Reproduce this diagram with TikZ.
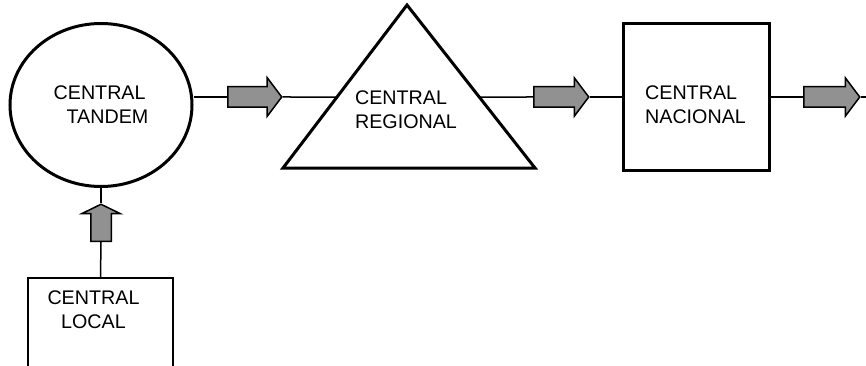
\documentclass[tikz,border=0pt]{standalone}
\usepackage{fontspec}
\setmainfont{Liberation Sans}
\usetikzlibrary{shapes.geometric}
\usetikzlibrary{shapes.arrows}
\definecolor{arrowgray}{gray}{0.57}
\tikzset{central/.style = {draw, line width=3pt, inner sep=0pt}}
\tikzset{ctext/.style = {font=\fontsize{19.7}{24}\selectfont, inner sep=0pt}}
\tikzset{link/.style = {line width=1.5pt}}
\tikzset{blockarrow/.style = {single arrow, draw, fill=arrowgray, line width=1.5pt,
                              inner xsep=0pt, inner ysep=9.5pt, anchor=tail,
                              single arrow head extend=9pt, single arrow tip angle=106}}

\begin{document}
\begin{tikzpicture}[x=1pt, y=-1pt]
			\useasboundingbox (0,0) rectangle (866,366);
			\node [central, ellipse, ctext, align=left, minimum width=182pt, minimum height=163pt] (tandem) at (101,105) {CENTRAL\\\hspace*{13pt}TANDEM};
			\draw [central] (407,5) coordinate (apex) -- (535,168) coordinate (right) -- (283,168) coordinate (left) -- cycle;
			\node [ctext, align=left] (regional) at (406,110) {CENTRAL\\REGIONAL};
			\node [central, rectangle, minimum width=146pt, minimum height=146pt] (nacional) at (696,97) {};
			\node [ctext, align=left] (nacionaltext) at (695.5,105) {CENTRAL\\NACIONAL};
			\node [draw, line width=2pt, minimum width=145pt, minimum height=140pt, anchor=north] (local) at (100.5,277) {};
			\node [ctext, align=center] (localtext) at (93.5,309.5) {CENTRAL\\LOCAL};
			\node [blockarrow, minimum height=37pt, single arrow tip angle=128, rotate=90] (a0) at (101,242) {};
			\node [blockarrow, minimum height=54pt] (a1) at (227,97) {};
			\node [blockarrow, minimum height=55pt] (a2) at (533,97) {};
			\node [blockarrow, minimum height=56pt] (a3) at (803,97) {};
			\coordinate (out) at (866,97);
			\draw [link] (tandem.south) to (a0.tip);
			\draw [link] (a0.tail) to (local.north);
			\draw [link] (a1.tail -| tandem.east) to (a1.tail);
			\draw [link] (a1.tip) to (intersection of apex--left and a1.tip--a2.tail);
			\draw [link] (intersection of apex--right and a1.tip--a2.tail) to (a2.tail);
			\draw [link] (a2.tip) to (nacional.west);
			\draw [link] (nacional.east) to (a3.tail);
			\draw [link] (a3.tip) to (out);
		\end{tikzpicture}
\end{document}
